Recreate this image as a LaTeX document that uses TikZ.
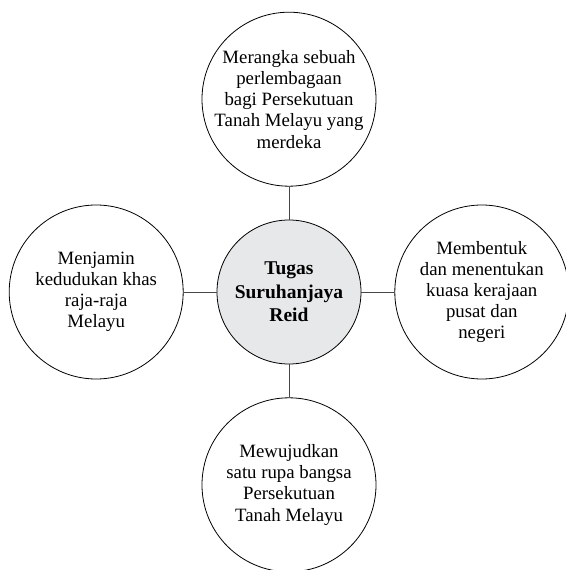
\documentclass[tikz,border=0pt]{standalone}
\usepackage{fontspec}
\setmainfont{Liberation Serif}
\usepackage{tikz}
\usetikzlibrary{positioning}

\definecolor{hubgray}{RGB}{231,232,233}
\definecolor{linkgray}{RGB}{70,70,70}

\begin{document}
\begin{tikzpicture}[node distance=33pt,
    topic/.style={draw, circle, line width=0.8pt, minimum size=174pt, inner sep=-8pt, align=center,
      font=\fontsize{18.8}{21.2}\selectfont},
    hub/.style={draw, circle, line width=0.8pt, fill=hubgray, minimum size=144pt, inner sep=0pt, align=center,
      font=\fontsize{19.5}{23.5}\selectfont\bfseries},
    link/.style={draw=linkgray, line width=0.8pt}]
  \useasboundingbox (-289pt,-278pt) rectangle (276pt,292pt);
  \node[hub] (tugas) {Tugas\\Suruhanjaya\\Reid};
  \node[topic, above=of tugas] (rangka) {Merangka sebuah\\perlembagaan\\bagi Persekutuan\\Tanah Melayu yang\\merdeka};
  \node[topic, left=of tugas] (jamin) {Menjamin\\kedudukan khas\\raja-raja\\Melayu};
  \node[topic, right=of tugas] (bentuk) {Membentuk\\dan menentukan\\kuasa kerajaan\\pusat dan\\negeri};
  \node[topic, below=of tugas] (wujud) {Mewujudkan\\satu rupa bangsa\\Persekutuan\\Tanah Melayu};
  \draw[link] (tugas) -- (rangka);
  \draw[link] (tugas) -- (jamin);
  \draw[link] (tugas) -- (bentuk);
  \draw[link] (tugas) -- (wujud);
\end{tikzpicture}
\end{document}
